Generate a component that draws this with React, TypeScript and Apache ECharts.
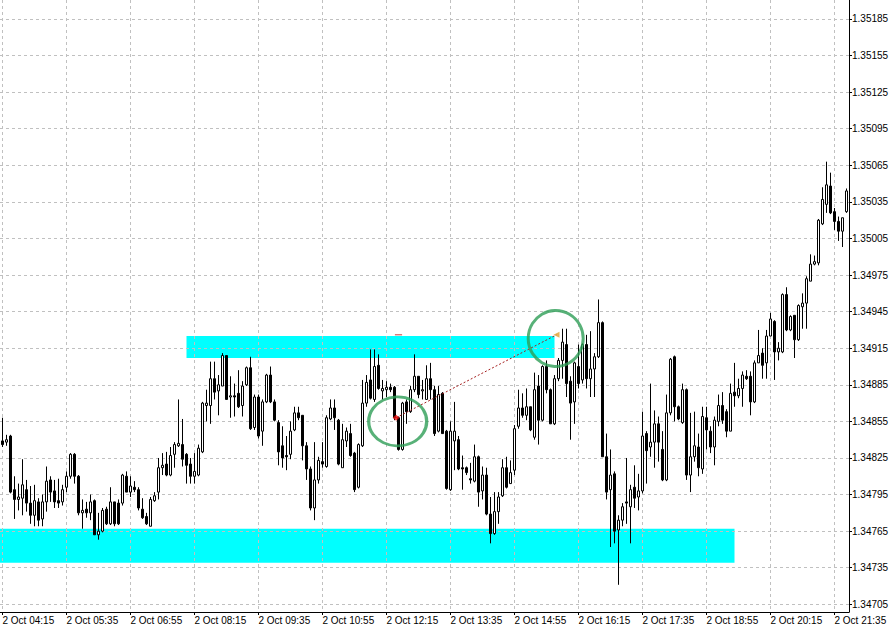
import React, { useEffect, useRef } from "react";
import * as echarts from "echarts";

// 5-minute bars, 2 Oct 04:15 onwards
const opens = [
1.34839,1.34838,1.34843,1.34799,1.34791,1.34792,1.34799,1.34788,1.34778,1.34789,
1.34775,1.34789,1.34807,1.34798,1.34790,1.34789,1.34801,1.34810,1.34828,1.34810,
1.34780,1.34783,1.34780,1.34790,1.34762,1.34765,1.34783,1.34771,1.34789,1.34788,
1.34788,1.34810,1.34797,1.34801,1.34799,1.34783,1.34777,1.34769,1.34790,1.34797,
1.34817,1.34820,1.34811,1.34828,1.34835,1.34836,1.34828,1.34820,1.34810,1.34811,
1.34830,1.34868,1.34868,1.34890,1.34880,1.34884,1.34909,1.34875,1.34876,1.34878,
1.34868,1.34885,1.34899,1.34850,1.34875,1.34847,1.34871,1.34893,1.34871,1.34854,
1.34835,1.34827,1.34828,1.34848,1.34862,1.34860,1.34835,1.34816,1.34784,1.34807,
1.34822,1.34818,1.34857,1.34866,1.34856,1.34817,1.34839,1.34845,1.34829,1.34801,
1.34835,1.34870,1.34889,1.34873,1.34901,1.34880,1.34881,1.34883,1.34883,1.34858,
1.34832,1.34871,1.34863,1.34881,1.34892,1.34880,1.34873,1.34890,1.34881,1.34847,
1.34878,1.34847,1.34799,1.34839,1.34840,1.34817,1.34817,1.34808,1.34806,1.34826,
1.34798,1.34811,1.34779,1.34763,1.34781,1.34794,1.34817,1.34804,1.34815,1.34851,
1.34866,1.34860,1.34867,1.34842,1.34884,1.34856,1.34900,1.34881,1.34853,1.34890,
1.34905,1.34918,1.34888,1.34871,1.34900,1.34889,1.34918,1.34890,1.34898,1.34908,
1.34936,1.34826,1.34799,1.34812,1.34766,1.34774,1.34789,1.34785,1.34801,1.34793,
1.34798,1.34845,1.34834,1.34838,1.34853,1.34832,1.34807,1.34862,1.34908,1.34867,
1.34854,1.34881,1.34811,1.34826,1.34834,1.34816,1.34858,1.34847,1.34834,1.34855,
1.34868,1.34863,1.34847,1.34879,1.34876,1.34882,1.34892,1.34892,1.34871,1.34903,
1.34911,1.34903,1.34925,1.34937,1.34912,1.34912,1.34959,1.34930,1.34942,1.34922,
1.34949,1.34952,1.34970,1.34984,1.34985,1.35017,1.35033,1.35048,1.35027,1.35019,
1.35011,1.35027];

const closes = [
1.34836,1.34840,1.34797,1.34791,1.34793,1.34803,1.34788,1.34778,1.34790,1.34774,
1.34789,1.34806,1.34797,1.34789,1.34788,1.34799,1.34810,1.34828,1.34810,1.34780,
1.34782,1.34780,1.34789,1.34762,1.34765,1.34782,1.34771,1.34789,1.34771,1.34771,
1.34811,1.34797,1.34802,1.34799,1.34784,1.34776,1.34771,1.34791,1.34794,1.34817,
1.34819,1.34811,1.34827,1.34836,1.34837,1.34824,1.34819,1.34810,1.34814,1.34833,
1.34870,1.34870,1.34890,1.34879,1.34885,1.34909,1.34873,1.34876,1.34875,1.34867,
1.34884,1.34899,1.34849,1.34875,1.34843,1.34871,1.34893,1.34871,1.34856,1.34830,
1.34825,1.34826,1.34847,1.34862,1.34858,1.34835,1.34816,1.34784,1.34807,1.34823,
1.34820,1.34858,1.34866,1.34858,1.34820,1.34840,1.34847,1.34827,1.34799,1.34836,
1.34870,1.34887,1.34874,1.34900,1.34882,1.34882,1.34883,1.34881,1.34858,1.34832,
1.34870,1.34863,1.34881,1.34892,1.34877,1.34881,1.34890,1.34881,1.34845,1.34877,
1.34845,1.34800,1.34847,1.34847,1.34816,1.34816,1.34813,1.34807,1.34826,1.34797,
1.34811,1.34779,1.34763,1.34781,1.34793,1.34817,1.34801,1.34813,1.34849,1.34866,
1.34860,1.34867,1.34848,1.34881,1.34856,1.34900,1.34881,1.34853,1.34890,1.34905,
1.34920,1.34886,1.34870,1.34903,1.34886,1.34918,1.34890,1.34898,1.34908,1.34936,
1.34826,1.34797,1.34811,1.34765,1.34774,1.34785,1.34788,1.34799,1.34792,1.34798,
1.34843,1.34831,1.34838,1.34853,1.34838,1.34807,1.34862,1.34906,1.34867,1.34857,
1.34881,1.34811,1.34826,1.34835,1.34817,1.34859,1.34848,1.34834,1.34856,1.34868,
1.34856,1.34847,1.34878,1.34876,1.34882,1.34893,1.34890,1.34871,1.34903,1.34909,
1.34901,1.34925,1.34939,1.34912,1.34915,1.34959,1.34930,1.34941,1.34922,1.34950,
1.34952,1.34972,1.34984,1.34986,1.35020,1.35037,1.35049,1.35026,1.35019,1.35011,
1.35022,1.35044];

const lows = [
1.34834,1.34835,1.34796,1.34775,1.34782,1.34778,1.34781,1.34771,1.34769,1.34769,
1.34769,1.34781,1.34789,1.34784,1.34784,1.34786,1.34797,1.34808,1.34804,1.34778,
1.34767,1.34776,1.34774,1.34762,1.34758,1.34764,1.34770,1.34770,1.34769,1.34770,
1.34786,1.34797,1.34793,1.34797,1.34782,1.34775,1.34770,1.34769,1.34789,1.34791,
1.34811,1.34810,1.34810,1.34817,1.34834,1.34818,1.34804,1.34804,1.34804,1.34810,
1.34829,1.34855,1.34853,1.34873,1.34860,1.34884,1.34873,1.34858,1.34859,1.34866,
1.34859,1.34884,1.34848,1.34848,1.34841,1.34835,1.34870,1.34870,1.34855,1.34819,
1.34817,1.34815,1.34824,1.34847,1.34856,1.34823,1.34807,1.34782,1.34774,1.34804,
1.34817,1.34817,1.34856,1.34848,1.34819,1.34817,1.34834,1.34826,1.34797,1.34800,
1.34834,1.34867,1.34873,1.34871,1.34881,1.34873,1.34875,1.34879,1.34856,1.34831,
1.34831,1.34853,1.34862,1.34879,1.34874,1.34873,1.34873,1.34873,1.34843,1.34846,
1.34845,1.34799,1.34798,1.34815,1.34815,1.34799,1.34811,1.34804,1.34805,1.34785,
1.34791,1.34778,1.34755,1.34762,1.34771,1.34793,1.34800,1.34804,1.34811,1.34849,
1.34858,1.34856,1.34847,1.34840,1.34836,1.34855,1.34878,1.34853,1.34852,1.34888,
1.34890,1.34875,1.34840,1.34853,1.34882,1.34886,1.34882,1.34875,1.34875,1.34907,
1.34826,1.34791,1.34752,1.34755,1.34721,1.34769,1.34771,1.34755,1.34784,1.34782,
1.34796,1.34804,1.34826,1.34817,1.34822,1.34806,1.34806,1.34860,1.34855,1.34856,
1.34853,1.34807,1.34797,1.34822,1.34810,1.34812,1.34832,1.34829,1.34819,1.34851,
1.34853,1.34842,1.34847,1.34867,1.34874,1.34867,1.34889,1.34860,1.34870,1.34903,
1.34890,1.34890,1.34925,1.34889,1.34905,1.34911,1.34929,1.34929,1.34907,1.34921,
1.34931,1.34931,1.34970,1.34983,1.34983,1.35016,1.35026,1.35025,1.35012,1.35003,
1.34998,1.35026];

const highs = [
1.34858,1.34844,1.34844,1.34810,1.34804,1.34824,1.34807,1.34802,1.34803,1.34792,
1.34795,1.34818,1.34810,1.34807,1.34808,1.34803,1.34814,1.34829,1.34829,1.34811,
1.34791,1.34789,1.34795,1.34791,1.34780,1.34784,1.34785,1.34801,1.34789,1.34791,
1.34812,1.34814,1.34810,1.34806,1.34801,1.34792,1.34780,1.34793,1.34797,1.34825,
1.34829,1.34830,1.34834,1.34838,1.34873,1.34857,1.34829,1.34825,1.34829,1.34836,
1.34871,1.34881,1.34904,1.34904,1.34893,1.34911,1.34909,1.34892,1.34886,1.34897,
1.34888,1.34900,1.34908,1.34877,1.34877,1.34873,1.34894,1.34900,1.34873,1.34856,
1.34851,1.34843,1.34855,1.34867,1.34867,1.34860,1.34838,1.34818,1.34838,1.34826,
1.34838,1.34860,1.34873,1.34873,1.34857,1.34853,1.34850,1.34853,1.34830,1.34837,
1.34889,1.34893,1.34914,1.34914,1.34910,1.34889,1.34888,1.34886,1.34884,1.34859,
1.34871,1.34873,1.34884,1.34910,1.34892,1.34889,1.34901,1.34903,1.34884,1.34884,
1.34879,1.34848,1.34855,1.34871,1.34843,1.34827,1.34818,1.34821,1.34836,1.34827,
1.34818,1.34817,1.34793,1.34797,1.34797,1.34824,1.34826,1.34823,1.34852,1.34881,
1.34878,1.34882,1.34867,1.34895,1.34893,1.34901,1.34905,1.34882,1.34893,1.34907,
1.34931,1.34931,1.34892,1.34904,1.34918,1.34919,1.34926,1.34929,1.34911,1.34955,
1.34937,1.34845,1.34832,1.34814,1.34778,1.34788,1.34825,1.34803,1.34819,1.34812,
1.34863,1.34847,1.34886,1.34864,1.34859,1.34847,1.34877,1.34907,1.34909,1.34868,
1.34886,1.34882,1.34862,1.34863,1.34845,1.34867,1.34867,1.34851,1.34859,1.34877,
1.34879,1.34865,1.34886,1.34903,1.34890,1.34896,1.34897,1.34896,1.34905,1.34930,
1.34915,1.34930,1.34944,1.34938,1.34920,1.34960,1.34965,1.34942,1.34942,1.34951,
1.34960,1.34974,1.34992,1.34991,1.35021,1.35047,1.35068,1.35059,1.35030,1.35023,
1.35022,1.35046];

const timeLabels = [
  "2 Oct 04:15", "2 Oct 05:35", "2 Oct 06:55", "2 Oct 08:15", "2 Oct 09:35",
  "2 Oct 10:55", "2 Oct 12:15", "2 Oct 13:35", "2 Oct 14:55", "2 Oct 16:15",
  "2 Oct 17:35", "2 Oct 18:55", "2 Oct 20:15", "2 Oct 21:35",
];
const BARS_PER_LABEL = 16;

const priceTicks = [
  1.34705, 1.34735, 1.34765, 1.34795, 1.34825, 1.34855, 1.34885, 1.34915,
  1.34945, 1.34975, 1.35005, 1.35035, 1.35065, 1.35095, 1.35125, 1.35155, 1.35185,
];

// zones: [fromBar, toBar, topPrice, bottomPrice]
const zoneUpper = [46, 138, 1.34925, 1.34907];
const zoneLower = [-3, 183, 1.34767, 1.34739];

// trade: [bar, price]
const tradeOpen = [98.4, 1.34858];
const tradeClose = [138.5, 1.34926];
const stopMark = [[98.1, 1.34926], [99.9, 1.34926]];
const circleLeft = [98.8, 1.34855];
const circleRight = [138.3, 1.34923];

const FONT = "'Liberation Sans', Arial, sans-serif";
const GRID_COLOR = "#c0c0c0";

export default function App() {
  const ref = useRef<HTMLDivElement>(null);

  useEffect(() => {
    if (!ref.current) return;
    const chart = echarts.init(ref.current, undefined, { renderer: "svg" });
    const n = Math.min(opens.length, closes.length, lows.length, highs.length);
    const candles = [];
    for (let i = 0; i < n; i++) candles.push([i, opens[i], closes[i], lows[i], highs[i]]);
    const tickBars = timeLabels.map((_, k) => k * BARS_PER_LABEL);

    const xMin = -0.625;
    const xMax = xMin + 849 / 4;

    chart.setOption({
      animation: false,
      backgroundColor: "#ffffff",
      grid: { left: 0, right: 45, top: 0, bottom: 21, containLabel: false, outerBoundsMode: "none" },
      xAxis: {
        type: "value",
        min: xMin,
        max: xMax,
        axisLine: { show: true, onZero: false, lineStyle: { color: "#000", width: 1 } },
        axisTick: { show: true, length: 3, customValues: tickBars, lineStyle: { color: "#000" } },
        axisLabel: {
          customValues: tickBars,
          formatter: (v: number) => timeLabels[Math.round(v / BARS_PER_LABEL)] ?? "",
          align: "left",
          margin: 3,
          color: "#000",
          fontSize: 10,
          fontFamily: FONT,
          hideOverlap: false,
        },
        splitLine: { show: true, lineStyle: { color: GRID_COLOR, type: [3, 3], width: 1 } },
      },
      yAxis: {
        type: "value",
        position: "right",
        min: 1.3469869,
        max: 1.3520058,
        scale: true,
        axisLine: { show: true, onZero: false, lineStyle: { color: "#000", width: 1 } },
        axisTick: { show: true, length: 3, customValues: priceTicks, lineStyle: { color: "#000" } },
        axisLabel: {
          customValues: priceTicks,
          formatter: (v: number) => v.toFixed(5),
          margin: 3,
          color: "#000",
          fontSize: 10,
          fontFamily: FONT,
          hideOverlap: false,
        },
        splitLine: { show: true, lineStyle: { color: GRID_COLOR, type: [3, 3], width: 1 } },
      },
      series: [
        {
          type: "custom",
          silent: true,
          clip: true,
          z: -1,
          data: [zoneUpper, zoneLower],
          encode: { x: [0, 1], y: [2, 3] },
          renderItem: (params: any, api: any) => {
            const p0 = api.coord([api.value(0), api.value(2)]);
            const p1 = api.coord([api.value(1), api.value(3)]);
            return {
              type: "rect",
              shape: { x: p0[0], y: p0[1], width: p1[0] - p0[0], height: p1[1] - p0[1] },
              style: { fill: "#00ffff" },
            };
          },
        },
        {
          type: "candlestick",
          silent: true,
          z: 2,
          barWidth: 2,
          data: candles,
          encode: { x: 0, y: [1, 2, 3, 4] },
          itemStyle: {
            color: "#ffffff",
            color0: "#000000",
            borderColor: "#000000",
            borderColor0: "#000000",
            borderWidth: 1,
          },
        },
        {
          type: "line",
          silent: true,
          z: 3,
          symbol: "none",
          data: [tradeOpen, tradeClose],
          lineStyle: { color: "#a52020", width: 1, type: [2, 2] },
        },
        {
          type: "line",
          silent: true,
          z: 3,
          symbol: "none",
          data: stopMark,
          lineStyle: { color: "#c83c3c", width: 1 },
        },
        {
          type: "scatter",
          silent: true,
          z: 4,
          data: [
            { value: tradeOpen, symbol: "diamond", symbolSize: [7, 6], itemStyle: { color: "#ee1010" } },
            { value: tradeClose, symbol: "triangle", symbolRotate: 90, symbolSize: [6, 6], itemStyle: { color: "#e0a030" } },
          ],
        },
        {
          type: "scatter",
          silent: true,
          z: 5,
          symbol: "circle",
          data: [
            { value: circleLeft, symbolSize: [58, 49] },
            { value: circleRight, symbolSize: [55, 56] },
          ],
          itemStyle: { color: "rgba(0,0,0,0)", borderColor: "#2e9e56", borderWidth: 3 },
        },
      ],
    });
    return () => chart.dispose();
  }, []);

  return (
    <div
      ref={ref}
      style={{ position: "fixed", left: 0, top: 0, width: 894, height: 633, background: "#fff" }}
    />
  );
}
